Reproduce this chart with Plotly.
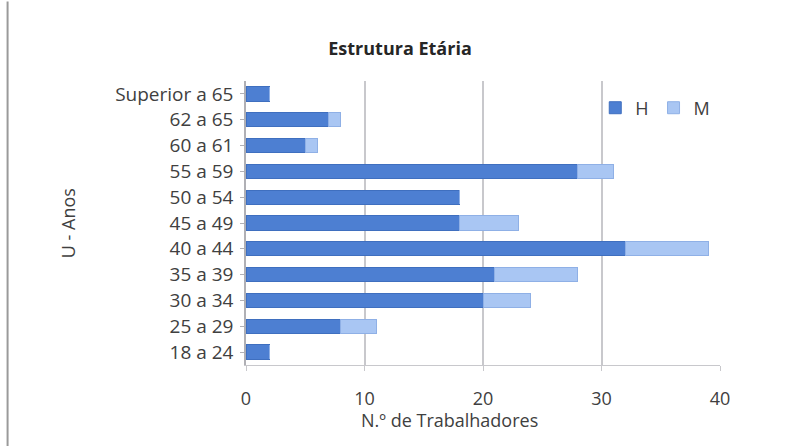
import plotly.graph_objects as go

categories = ["18 a 24", "25 a 29", "30 a 34", "35 a 39", "40 a 44", "45 a 49",
              "50 a 54", "55 a 59", "60 a 61", "62 a 65", "Superior a 65"]
h_values = [2, 8, 20, 21, 32, 18, 18, 28, 5, 7, 2]
m_values = [0, 3, 4, 7, 7, 5, 0, 3, 1, 1, 0]
x_ticks = [0, 10, 20, 30, 40]

title_text = "Estrutura Etária"
x_title = "N.º de Trabalhadores"
y_title = "U - Anos"

font_family = "Open Sans, Liberation Sans, sans-serif"
text_color = "#404040"

fig = go.Figure()
fig.add_trace(go.Bar(y=categories, x=h_values, name="H", orientation="h",
                     marker=dict(color="#4d7fd2", line=dict(color="#3f6fbf", width=1))))
fig.add_trace(go.Bar(y=categories, x=m_values, name="M", orientation="h",
                     marker=dict(color="#a9c6f3", line=dict(color="#8fb0e6", width=1))))

fig.update_layout(
    width=800, height=446,
    barmode="stack", bargap=0.45,
    paper_bgcolor="white", plot_bgcolor="white",
    margin=dict(l=246, r=80, t=81, b=81),
    font=dict(family=font_family, color=text_color, size=17),
    title=dict(text="<b>" + title_text + "</b>", x=0.5, xanchor="center",
               y=0.89, yanchor="middle", font=dict(size=18, color="#262626")),
    legend=dict(orientation="h", x=0.99, xanchor="right", y=0.97, yanchor="top",
                bgcolor="rgba(0,0,0,0)", font=dict(size=18, color=text_color),
                traceorder="normal", itemwidth=30),
    showlegend=True,
)
fig.update_xaxes(range=[0, 40], tickvals=x_ticks, showgrid=True, gridcolor="#c8c8cc",
                 gridwidth=1.5, zeroline=False, showline=True, linecolor="#c8c8cc",
                 ticks="outside", tickcolor="#c8c8cc", ticklen=5,
                 ticklabelstandoff=12, tickfont=dict(size=18, color=text_color))
fig.update_yaxes(categoryorder="array", categoryarray=categories, showgrid=False,
                 showline=True, linecolor="#b0b0b5", linewidth=1.5, ticks="outside",
                 tickcolor="#b0b0b5", ticklen=4, ticklabelstandoff=3,
                 tickfont=dict(size=19, color=text_color))

fig.add_annotation(text=x_title, xref="paper", yref="paper", x=0.43, y=-0.195,
                   xanchor="center", yanchor="middle", showarrow=False,
                   font=dict(size=18, color=text_color))
fig.add_annotation(text=y_title, xref="paper", yref="paper", x=-0.375, y=0.5,
                   xanchor="center", yanchor="middle", showarrow=False, textangle=-90,
                   font=dict(size=18, color=text_color))
fig.add_shape(type="line", xref="paper", yref="paper", x0=-0.503, x1=-0.503,
              y0=-0.3, y1=1.28, line=dict(color="#9a9a9a", width=2))

fig.write_html("out.html")
